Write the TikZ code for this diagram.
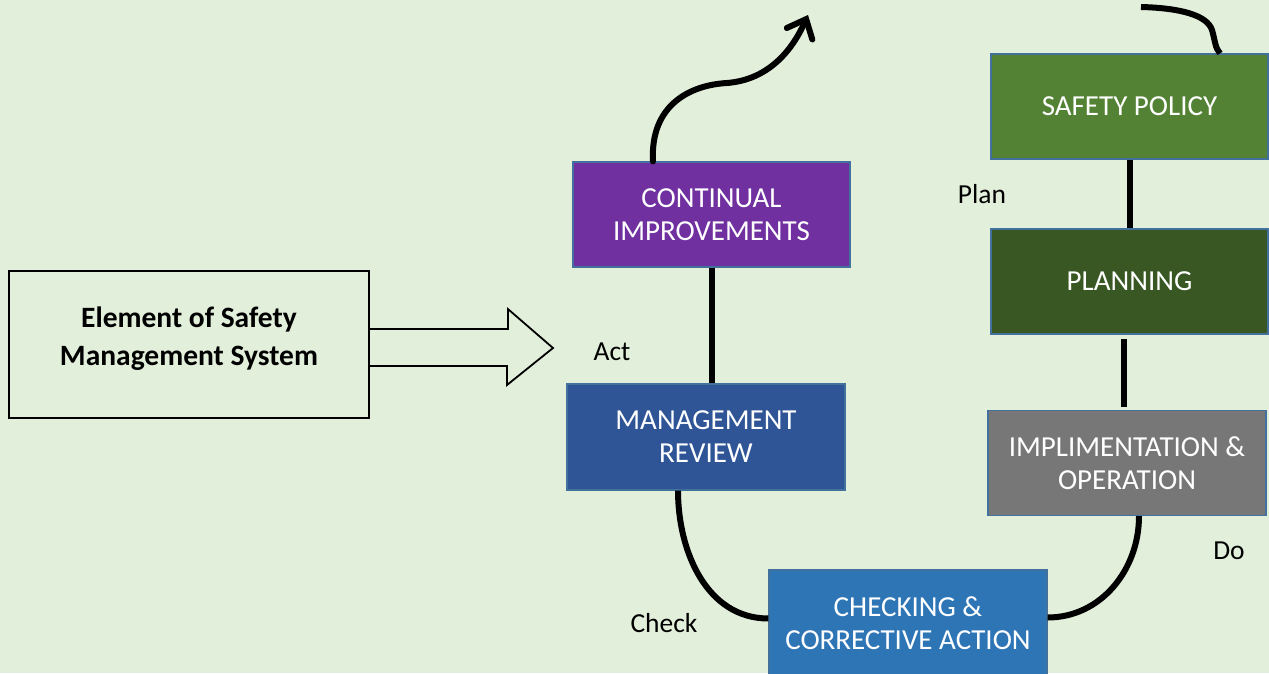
\documentclass[tikz,border=0pt]{standalone}
\usepackage{fontspec}
\setmainfont{Carlito}
\usetikzlibrary{arrows.meta,calc}

\definecolor{bg}{HTML}{E2EFDA}
\definecolor{edgeblue}{HTML}{41719C}
\definecolor{cipurple}{HTML}{7030A0}
\definecolor{mrblue}{HTML}{2F5597}
\definecolor{chblue}{HTML}{2E75B6}
\definecolor{spgreen}{HTML}{548235}
\definecolor{pldgreen}{HTML}{385723}
\definecolor{imgray}{HTML}{777777}

\tikzset{
  stage/.style={draw=edgeblue, line width=1.2pt, text=white, align=center,
    minimum width=277, minimum height=105, inner sep=0pt,
    font=\fontsize{29}{33}\selectfont},
  titlebox/.style={draw=black, line width=1.8pt, align=center,
    minimum width=360, minimum height=147, inner sep=0pt, text depth=16pt,
    font=\bfseries\fontsize{29.5}{38}\selectfont},
  blockarrow/.style={draw=black, line width=1.8pt, line join=miter},
  link/.style={draw=black, line width=6pt},
  phase/.style={anchor=base, font=\fontsize{27.5}{33}\selectfont},
}

\begin{document}
\begin{tikzpicture}[x=1pt, y=-1pt]
  \useasboundingbox (0,0) rectangle (1269,673);
  \clip (0,0) rectangle (1269,673);
  \fill[bg] (0,0) rectangle (1269,673);

  % title box and the hollow arrow pointing into the cycle
  \node[titlebox] (ems) at (189,344.5) {Element of Safety\\Management System};
  \draw[blockarrow] ($(ems.east)+(0,-15.5)$) -- ++(138,0) -- ++(0,-20)
    -- (553,348) -- (507,385) -- ++(0,-19) -- ($(ems.east)+(0,21.5)$);

  % PDCA stages
  \node[stage, fill=spgreen]  (sp) at (1129.5,106.5) {SAFETY POLICY};
  \node[stage, fill=pldgreen] (pl) at (1129.5,281.5) {PLANNING};
  \node[stage, fill=imgray, minimum width=278] (im) at (1127,463) {IMPLIMENTATION \&\\OPERATION};
  \node[stage, fill=chblue, minimum width=278, minimum height=107] (ch) at (908,623.5) {CHECKING \&\\CORRECTIVE ACTION};
  \node[stage, fill=mrblue, minimum width=278, minimum height=106] (mr) at (706,437) {MANAGEMENT\\REVIEW};
  \node[stage, fill=cipurple] (ci) at (711.5,214.5) {CONTINUAL\\IMPROVEMENTS};

  % phase labels
  \node[phase] (plan)  at (982,203)  {Plan};
  \node[phase] (do)    at (1229,559) {Do};
  \node[phase] (check) at (664,632)  {Check};
  \node[phase] (act)   at (612,360)  {Act};

  % connectors between the stages
  \coordinate (entry) at (1141,7);
  \draw[link] (entry) .. controls (1180,8) and (1207,15) .. (1212,30)
    .. controls (1215,40) and (1215,48) .. ($(sp.north)+(90.5,0)$);
  \draw[link] (sp.south) -- (pl.south |- sp.south) -- (pl.north);
  \draw[link] ($(pl.south)+(-5.5,4)$) -- ($(im.north)+(-3,-3)$);
  \draw[link] ($(im.south)+(12,0)$) to[out=-90, in=0] ($(ch.east)+(0,-6)$);
  \draw[link] ($(mr.south)+(-28,0)$) to[out=-90, in=180] ($(ch.west)+(0,-5)$);
  \draw[link] (ci.south) -- (ci.south |- mr.north);

  % outgoing arrow from continual improvements
  \coordinate (exit) at (808,15);
  \draw[link, line cap=round, -{Straight Barb[length=16pt, width=28pt, line cap=round]}]
    ($(ci.north)+(-58.5,0)$) .. controls (650,105) and (690,85) .. (727,83)
    .. controls (765,80) and (790,55) .. (exit);
\end{tikzpicture}
\end{document}
